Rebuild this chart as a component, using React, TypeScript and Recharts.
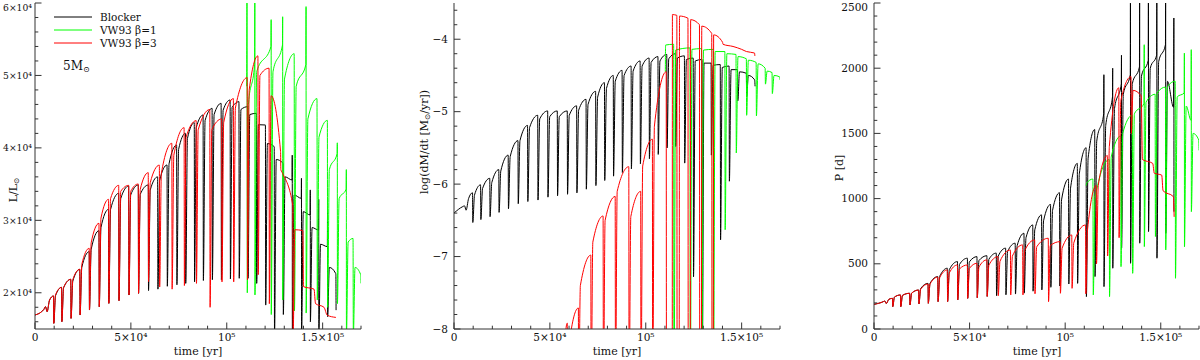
import React from "react"
import { Line, LineChart, XAxis, YAxis } from "recharts"

type Pt = [number, number]
// [dip time (kyr), value at dip, value ~1 kyr later, value just before next dip, optional spike]
type Pulse = [number, number, number, number, number?]

const FONT = "'DejaVu Serif', 'DejaVu Sans', serif"
const FRAME = "#333"
const BLACK = "#000000"
const GREEN = "#00ff00"
const RED = "#ff0000"

// ---- shared axis labels ----
const timeLabels: Record<number, string> = { 0: "0", 50: "5×10⁴", 100: "10⁵", 150: "1.5×10⁵" }
const lumLabels: Record<number, string> = { 20000: "2×10⁴", 30000: "3×10⁴", 40000: "4×10⁴", 50000: "5×10⁴", 60000: "6×10⁴" }
const mdotLabels: Record<number, string> = { [-8]: "−8", [-7]: "−7", [-6]: "−6", [-5]: "−5", [-4]: "−4" }
const perLabels: Record<number, string> = { 0: "0", 500: "500", 1000: "1000", 1500: "1500", 2000: "2000", 2500: "2500" }

// ---- luminosity (L/Lsun) ----
const blockerLumHead: Pt[] = [[0, 16930], [4.6, 17700], [5.5, 18080], [6.3, 17390], [7.6, 19000], [9.65, 19560]]
const blockerLumPulses: Pulse[] = [
  [9.8, 15780, 19600, 20750], [14.0, 16010, 20700, 21860], [18.8, 16470, 21600, 23240],
  [23.5, 16930, 23500, 25680], [28.4, 17620, 26000, 28570], [33.5, 18080, 29000, 31520],
  [38.5, 18540, 31500, 33730], [43.8, 18910, 33000, 34740], [49.0, 19690, 33500, 34880],
  [54.0, 19920, 33600, 34880], [59.2, 20300, 34200, 36000], [64.1, 20500, 35500, 37640],
  [69.0, 20900, 37800, 40400], [74.0, 21100, 39800, 42010], [78.6, 21300, 41300, 43480],
  [83.2, 21500, 42800, 44540], [87.8, 21700, 43800, 45460], [92.5, 21800, 44600, 46150],
  [97.2, 21800, 45200, 46610], [101.9, 21900, 45600, 46380], [106.5, 22000, 45300, 45690],
  [111.1, 22000, 44600, 44770], [115.6, 21300, 43200, 43160], [120.3, 18300, 40600, 40170],
  [124.9, 14000, 38400, 37870], [129.5, 17000, 36000, 35570], [134.2, 14000, 33500, 33040, 39000],
  [139.0, 14000, 31200, 30740, 35800], [143.6, 16000, 29000, 28670, 34200], [148.0, 14000, 26700, 26370, 32900],
  [152.6, 16700, 23500, 22690, 31000],
]
const blockerLumTail: Pt[] = [[156.9, 22500], [157.0, 17600]]

const vw1LumHead: Pt[] = [[110.4, 48500], [110.55, 62000], [110.7, 20000], [111.3, 46000], [114.5, 51500]]
const vw1LumPulses: Pulse[] = [
  [114.7, 19700, 50500, 54000, 62000], [123.2, 17000, 50500, 54200, 57700], [129.2, 19000, 49500, 53000, 58100],
  [135.3, 17500, 48500, 51500], [141.4, 17200, 44000, 46800, 59500], [147.2, 19000, 41500, 43800],
  [152.6, 18000, 37000, 39200], [157.7, 18500, 33000, 34300, 40700], [162.4, 14000, 27000, 27500, 37000],
  [166.0, 14000, 23500, 22500],
]
const vw1LumTail: Pt[] = [[170, 21300]]

const vw3LumHead: Pt[] = [[0, 16930], [4.6, 17700], [5.5, 18080], [6.3, 17390], [7.6, 19000], [9.65, 19560]]
const vw3LumPulses: Pulse[] = [
  [9.8, 15780, 19700, 20750], [14.0, 16010, 20700, 21860], [18.8, 16470, 21800, 23240],
  [23.5, 16930, 23900, 26140], [28.4, 17620, 26900, 29590], [33.5, 18080, 30300, 32900],
  [38.5, 18540, 33000, 34830], [43.8, 18910, 34000, 34830], [49.0, 19690, 34000, 35020],
  [54.0, 19920, 34300, 36580], [59.2, 21540, 35200, 37620], [65.0, 20800, 36500, 40630],
  [71.5, 20500, 39000, 42790], [77.9, 21000, 41500, 43760], [84.2, 21300, 42500, 45300],
  [91.3, 18000, 42500, 44000], [97.5, 21500, 43500, 46800], [103.6, 21500, 45500, 49700],
  [110.8, 21800, 48000, 52700], [116.4, 22500, 50000, 51000], [122.2, 18500, 47200, 39500],
  [128.2, 37000, 36500, 32000], [134.6, 14000, 28700, 28600],
]
const vw3LumTail: Pt[] = [[139.7, 28500], [140.0, 20850], [145.5, 20500], [146.3, 18500], [150.7, 18000], [152.4, 16900], [156.9, 16600]]

// ---- mass-loss rate, log(dM/dt) ----
const blockerMdotHead: Pt[] = [[0, -6.4], [4.6, -6.31], [5.5, -6.3], [6.3, -6.36], [7.6, -6.2], [9.65, -6.12]]
const blockerMdotPulses: Pulse[] = [
  [9.8, -6.53, -6.15, -6.01], [14.0, -6.49, -6.06, -5.92], [18.8, -6.45, -5.98, -5.8],
  [23.5, -6.39, -5.82, -5.6], [28.4, -6.34, -5.62, -5.4], [33.5, -6.27, -5.4, -5.19],
  [38.5, -6.24, -5.22, -5.05], [43.8, -6.22, -5.1, -4.99], [49.0, -6.18, -5.07, -4.99],
  [54.0, -6.16, -5.07, -4.99], [59.2, -6.14, -5.05, -4.92], [64.1, -6.12, -4.98, -4.83],
  [69.0, -6.07, -4.9, -4.72], [74.0, -6.02, -4.8, -4.6], [78.6, -5.95, -4.68, -4.5],
  [83.2, -5.89, -4.58, -4.43], [87.8, -5.84, -4.5, -4.37], [92.5, -5.79, -4.44, -4.3],
  [97.2, -5.72, -4.37, -4.26], [101.9, -5.65, -4.32, -4.24], [106.5, -5.59, -4.3, -4.21],
  [111.1, -5.5, -4.27, -4.2], [115.6, -5.48, -4.26, -4.23], [120.3, -5.71, -4.28, -4.26],
  [124.9, -7.28, -4.3, -4.28], [129.5, -8.4, -4.33, -4.33], [134.2, -5.6, -4.36, -4.35],
  [139.0, -6.77, -4.39, -4.37], [143.6, -5.96, -4.42, -4.42], [148.0, -4.85, -4.45, -4.47],
  [152.6, -4.79, -4.5, -4.56],
]
const blockerMdotTail: Pt[] = [[156.9, -4.6], [157.0, -4.65]]

const vw1MdotHead: Pt[] = [[110.2, -4.45], [110.35, -4.08], [114.55, -4.07]]
const vw1MdotPulses: Pulse[] = [
  [114.7, -9, -4.15, -4.12], [123.2, -9, -4.14, -4.13], [129.2, -9, -4.15, -4.14],
  [135.3, -9, -4.17, -4.17], [141.4, -6.63, -4.2, -4.21], [147.2, -5.57, -4.24, -4.27],
  [152.6, -5.05, -4.29, -4.32], [157.7, -5.06, -4.34, -4.4], [162.4, -4.62, -4.44, -4.46],
  [166.0, -4.75, -4.5, -4.52],
]
const vw1MdotTail: Pt[] = [[170, -4.56]]

const vw3MdotHead: Pt[] = [[54.5, -9.2], [57.2, -8.3], [59.05, -7.92]]
const vw3MdotPulses: Pulse[] = [
  [59.2, -9, -8.2, -7.71], [65.0, -9, -7.4, -6.98], [71.5, -9, -6.8, -6.44],
  [77.9, -9, -6.5, -6.17], [84.2, -9, -6.1, -5.76], [91.3, -9, -6.45, -6.1],
  [97.5, -9, -5.75, -5.38], [103.6, -9, -5.2, -4.45],
]
const vw3MdotTail: Pt[] = [
  [110.8, -9], [113.8, -9], [113.9, -3.66], [116.2, -3.67], [116.35, -9], [117.4, -9], [117.6, -3.68],
  [122.0, -3.71], [122.15, -9], [123.2, -9], [123.4, -3.73], [128.0, -3.8], [128.15, -9], [129.0, -9],
  [129.2, -3.82], [134.4, -3.92], [134.55, -9], [135.2, -9], [135.4, -3.94], [140.0, -4.04], [140.3, -4.07],
  [145.5, -4.1], [150.0, -4.14], [152.5, -4.17], [156.7, -4.19], [156.9, -4.23],
]

// ---- pulsation period P [d] ----
const blockerPerHead: Pt[] = [[0, 189], [4.9, 210], [5.6, 215], [6.4, 195], [7.8, 228], [9.65, 235]]
const blockerPerPulses: Pulse[] = [
  [9.8, 171, 245, 261], [14.0, 171, 258, 274], [18.8, 184, 275, 299], [23.5, 192, 310, 350],
  [28.4, 197, 350, 402], [33.5, 210, 405, 466], [38.5, 210, 455, 517], [43.8, 223, 495, 543],
  [49.0, 235, 515, 555], [54.0, 240, 525, 562], [59.2, 250, 535, 582], [64.1, 255, 560, 620],
  [69.0, 262, 595, 658], [74.0, 268, 640, 734], [78.6, 275, 700, 798], [83.2, 290, 760, 875],
  [87.8, 300, 830, 955], [92.5, 320, 910, 1045], [97.2, 330, 990, 1150], [101.9, 345, 1080, 1270],
  [106.5, 350, 1190, 1390], [111.1, 248, 1310, 1530], [115.6, 402, 1440, 1650],
  [120.3, 325, 1560, 1780, 1950], [124.9, 466, 1690, 1880, 2000], [129.5, 620, 1800, 1950, 2100],
  [134.2, 504, 1880, 2010, 2700], [139.0, 658, 1940, 2060, 2700], [143.6, 747, 2000, 2100, 2700],
  [148.0, 543, 2050, 2180, 2700], [152.6, 734, 1900, 1700, 2700],
]
const blockerPerTail: Pt[] = [[156.85, 2385], [156.9, 900]]

const vw1PerHead: Pt[] = [[111.0, 1100], [111.3, 1120], [114.5, 1150]]
const vw1PerPulses: Pulse[] = [
  [114.7, 261, 1000, 1300], [123.2, 248, 1320, 1480], [129.2, 478, 1500, 1640],
  [135.3, 427, 1650, 1730], [141.4, 632, 1740, 1800, 2180], [147.2, 709, 1810, 1855],
  [152.6, 606, 1860, 1900], [157.7, 389, 1780, 1810], [162.4, 630, 1710, 1600, 2116],
  [166.0, 900, 1500, 1450, 2142],
]
const vw1PerTail: Pt[] = [[170, 1370]]

const vw3PerHead: Pt[] = [[0, 189], [4.9, 210], [5.6, 215], [6.4, 195], [7.8, 228], [9.65, 235]]
const vw3PerPulses: Pulse[] = [
  [9.8, 171, 245, 261], [14.0, 171, 258, 274], [18.8, 184, 275, 299], [23.5, 192, 305, 345],
  [28.4, 197, 345, 398], [33.5, 210, 395, 453], [38.5, 210, 430, 491], [43.8, 223, 460, 491],
  [49.0, 235, 465, 504], [54.0, 240, 475, 530], [59.2, 250, 490, 555], [65.0, 255, 520, 606],
  [71.5, 261, 560, 645], [77.9, 261, 600, 683], [84.2, 270, 630, 696], [91.3, 210, 640, 670],
  [97.5, 274, 620, 721], [103.6, 312, 660, 798], [110.8, 270, 760, 1100], [116.4, 500, 1100, 1330],
  [122.2, 560, 1400, 1850], [128.2, 700, 1750, 1935], [134.6, 1500, 1830, 1790],
]
const vw3PerTail: Pt[] = [[139.8, 1780], [140.4, 1300], [145.8, 1270], [146.6, 1195], [150.5, 1180], [151.2, 1060], [156.6, 1015], [157.0, 860]]

// turn the read-off pulse rows into a polyline
function trace(head: Pt[], pulses: Pulse[], tail: Pt[]) {
  const pts: Pt[] = [...head]
  pulses.forEach(([t, low, top, end, spike], i) => {
    const next = i + 1 < pulses.length ? pulses[i + 1][0] : tail[0][0]
    if (spike != null) pts.push([t - 0.05, spike])
    pts.push([t, low], [t + 0.9, top], [next - 0.15, end])
  })
  return [...pts, ...tail].map(([t, v]) => ({ t, v }))
}

const steps = (from: number, to: number, step: number) => {
  const out: number[] = []
  for (let v = from; v <= to + step / 2; v += step) out.push(Math.round(v * 1000) / 1000)
  return out
}

const timeTicks = steps(0, 170, 10)
const lumTicks = steps(16000, 60000, 2000)
const mdotTicks = steps(-8, -3.6, 0.2)
const perTicks = steps(0, 2500, 100)

const MAJOR = 6.5
const MINOR = 3.3

function makeTick(side: "bottom" | "top" | "left" | "right", labels: Record<number, string>, margin: number, size = 10.5) {
  const tickText = { fontFamily: FONT, fontSize: size, fill: "#111" }
  return (p: any) => {
    const { x, y, payload } = p
    const label = labels[payload.value]
    const len = label !== undefined ? MAJOR : MINOR
    if (side === "bottom") {
      const ay = y - margin
      return (
        <g>
          <line x1={x} x2={x} y1={ay} y2={ay - len} stroke={FRAME} />
          {label !== undefined && (
            <text x={x} y={ay + margin + 8} textAnchor="middle" style={tickText}>{label}</text>
          )}
        </g>
      )
    }
    if (side === "top") return <line x1={x} x2={x} y1={y} y2={y + len} stroke={FRAME} />
    if (side === "right") return <line x1={x} x2={x - len} y1={y} y2={y} stroke={FRAME} />
    const ax = x + margin
    return (
      <g>
        <line x1={ax} x2={ax + len} y1={y} y2={y} stroke={FRAME} />
        {label !== undefined && (
          <text x={ax - margin} y={Math.max(y + 3.6, 11)} textAnchor="end" style={tickText}>{label}</text>
        )}
      </g>
    )
  }
}

type Series = { name: string; color: string; points: { t: number; v: number }[] }

function Panel({ left, width, axisWidth, yMargin, yFont, yDomain, yTicks, yLabels, series }: {
  left: number; width: number; axisWidth: number; yMargin: number; yFont: number
  yDomain: [number, number]; yTicks: number[]; yLabels: Record<number, string>; series: Series[]
}) {
  return (
    <div style={{ position: "absolute", left, top: 0 }}>
      <LineChart width={width} height={360} margin={{ top: 3, right: 1, bottom: 0, left: 0 }}>
        <XAxis xAxisId="b" dataKey="t" type="number" domain={[0, 170]} ticks={timeTicks} interval={0}
          allowDataOverflow height={31} tickSize={0} tickMargin={4} tickLine={false}
          axisLine={{ stroke: FRAME }} tick={makeTick("bottom", timeLabels, 4)} />
        <XAxis xAxisId="t" orientation="top" dataKey="t" type="number" domain={[0, 170]} ticks={timeTicks}
          interval={0} allowDataOverflow height={0} tickSize={0} tickMargin={0} tickLine={false}
          axisLine={{ stroke: FRAME }} tick={makeTick("top", timeLabels, 0)} />
        <YAxis yAxisId="l" type="number" domain={yDomain} ticks={yTicks} interval={0} allowDataOverflow
          width={axisWidth} tickSize={0} tickMargin={yMargin} tickLine={false}
          axisLine={{ stroke: FRAME }} tick={makeTick("left", yLabels, yMargin, yFont)} />
        <YAxis yAxisId="r" orientation="right" type="number" domain={yDomain} ticks={yTicks} interval={0}
          allowDataOverflow width={0} tickSize={0} tickMargin={0} tickLine={false}
          axisLine={{ stroke: FRAME }} tick={makeTick("right", yLabels, 0)} />
        {series.map((s) => (
          <Line key={s.name} xAxisId="b" yAxisId="l" data={s.points} dataKey="v" type="monotone"
            stroke={s.color} strokeWidth={1} dot={false} activeDot={false} isAnimationActive={false} />
        ))}
      </LineChart>
    </div>
  )
}

export default function App() {
  const lum: Series[] = [
    { name: "Blocker", color: BLACK, points: trace(blockerLumHead, blockerLumPulses, blockerLumTail) },
    { name: "VW93 b1", color: GREEN, points: trace(vw1LumHead, vw1LumPulses, vw1LumTail) },
    { name: "VW93 b3", color: RED, points: trace(vw3LumHead, vw3LumPulses, vw3LumTail) },
  ]
  const mdot: Series[] = [
    { name: "Blocker", color: BLACK, points: trace(blockerMdotHead, blockerMdotPulses, blockerMdotTail) },
    { name: "VW93 b1", color: GREEN, points: trace(vw1MdotHead, vw1MdotPulses, vw1MdotTail) },
    { name: "VW93 b3", color: RED, points: trace(vw3MdotHead, vw3MdotPulses, vw3MdotTail) },
  ]
  const per: Series[] = [
    { name: "Blocker", color: BLACK, points: trace(blockerPerHead, blockerPerPulses, blockerPerTail) },
    { name: "VW93 b1", color: GREEN, points: trace(vw1PerHead, vw1PerPulses, vw1PerTail) },
    { name: "VW93 b3", color: RED, points: trace(vw3PerHead, vw3PerPulses, vw3PerTail) },
  ]
  const txt = { fontFamily: FONT, fontSize: 11, fill: "#111" }
  const legend = [
    { label: "Blocker", color: BLACK, y: 17 },
    { label: "VW93 β=1", color: GREEN, y: 30 },
    { label: "VW93 β=3", color: RED, y: 43 },
  ]
  return (
    <div style={{ position: "absolute", left: 0, top: 0, width: 1200, height: 360, background: "#fff" }}>
      <Panel left={0} width={362} axisWidth={35} yMargin={3} yFont={9.2} yDomain={[15000, 60000]} yTicks={lumTicks} yLabels={lumLabels} series={lum} />
      <Panel left={400} width={381} axisWidth={54} yMargin={6} yFont={10.5} yDomain={[-8, -3.5]} yTicks={mdotTicks} yLabels={mdotLabels} series={mdot} />
      <Panel left={800} width={400} axisWidth={74} yMargin={6} yFont={10.5} yDomain={[0, 2500]} yTicks={perTicks} yLabels={perLabels} series={per} />
      <svg width={1200} height={360} style={{ position: "absolute", left: 0, top: 0, pointerEvents: "none" }}>
        <text x={198} y={355} textAnchor="middle" style={txt}>time [yr]</text>
        <text x={617} y={355} textAnchor="middle" style={txt}>time [yr]</text>
        <text x={1037} y={355} textAnchor="middle" style={txt}>time [yr]</text>
        <text x={17} y={190} textAnchor="middle" transform="rotate(-90 17 190)" style={txt}>
          L/L<tspan fontSize={7.5} dy={2}>⊙</tspan>
        </text>
        <text x={428} y={142} textAnchor="middle" transform="rotate(-90 428 142)" style={txt}>
          log(dM/dt [M<tspan fontSize={7.5} dy={2}>⊙</tspan><tspan dy={-2}>/yr])</tspan>
        </text>
        <text x={843} y={168} textAnchor="middle" transform="rotate(-90 843 168)" style={txt}>P [d]</text>
        {legend.map((l) => (
          <g key={l.label}>
            <line x1={54} x2={92} y1={l.y} y2={l.y} stroke={l.color} strokeWidth={1} />
            <text x={100} y={l.y + 3.8} style={{ ...txt, fontSize: 10.5 }}>{l.label}</text>
          </g>
        ))}
        <text x={63} y={70} style={{ ...txt, fontSize: 12 }}>
          5M<tspan fontSize={8} dy={2}>⊙</tspan>
        </text>
      </svg>
    </div>
  )
}
